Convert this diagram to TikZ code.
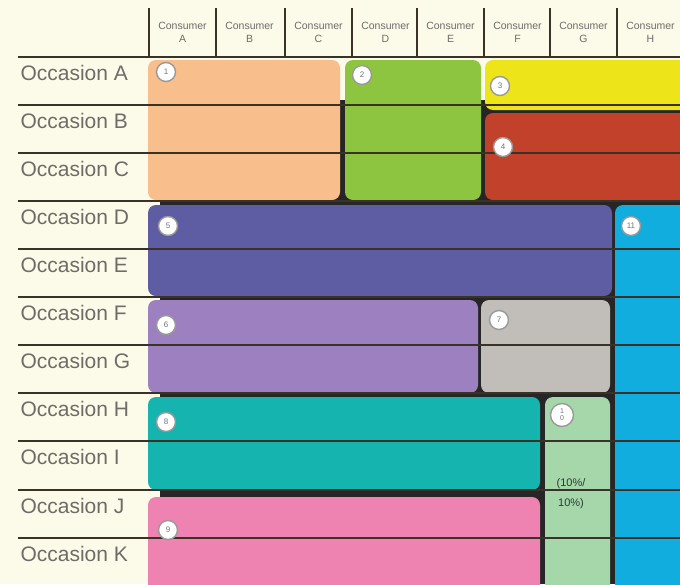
\documentclass[tikz,border=0pt]{standalone}
\usepackage{fontspec}
\setmainfont{Liberation Sans}
\usetikzlibrary{positioning,calc}
\definecolor{cPaper}{HTML}{FCFAE8}
\definecolor{cRule}{HTML}{3A3226}
\definecolor{cText}{HTML}{6E6C66}
\definecolor{cPeach}{HTML}{F8BE8C}
\definecolor{cGreen}{HTML}{8DC540}
\definecolor{cYellow}{HTML}{EDE51A}
\definecolor{cRed}{HTML}{C1412A}
\definecolor{cIndigo}{HTML}{5E5CA2}
\definecolor{cCyan}{HTML}{12ADDF}
\definecolor{cLilac}{HTML}{9C80C0}
\definecolor{cGrey}{HTML}{C1BEB9}
\definecolor{cTeal}{HTML}{15B4AF}
\definecolor{cMint}{HTML}{A6D7AA}
\definecolor{cPink}{HTML}{EE82B1}

\begin{document}
\begin{tikzpicture}[
    x=1pt, y=-1pt,
    block/.style={rounded corners=8pt, anchor=north west, inner sep=0pt},
    num/.style={circle, draw=black!40, fill=white, line width=1.4pt, minimum size=19pt, inner sep=0pt, font=\fontsize{8}{8}\selectfont, text=black!55},
    occ/.style={anchor=west, font=\fontsize{21}{23}\selectfont, text=cText},
    cons/.style={font=\fontsize{10.5}{12}\selectfont, text=cText, align=center},
    rule/.style={draw=cRule, line width=1.8pt}
]
\useasboundingbox (0,0) rectangle (680,584);
\clip (0,0) rectangle (680,584);
\fill[cPaper] (0,0) rectangle (680,584);

% dark ground behind the blocks
\fill[black!85] (160,100) rectangle (680,584);

% blocks
\fill[block, cPeach] (148,60) rectangle (340,200);
\fill[block, cGreen] (345,60) rectangle (481,200);
\fill[block, cYellow] (485,60) rectangle (700,110);
\fill[block, cRed] (485,113) rectangle (700,200);
\fill[block, cIndigo] (148,205) rectangle (612,296);
\fill[block, cCyan] (615,205) rectangle (700,600);
\fill[block, cLilac] (148,300) rectangle (478,393);
\fill[block, cGrey] (481,300) rectangle (610,393);
\fill[block, cTeal] (148,397) rectangle (540,490);
\fill[block, cMint] (545,397) rectangle (610,600);
\fill[block, cPink] (148,497) rectangle (540,600);

% header columns
\foreach \x/\c in {149/A,216/B,285/C,352/D,417/E,484/F,550/G,617/H} {
  \draw[draw=cRule, line width=1.6pt] (\x,8) -- (\x,57);
  \node[cons] (cons\c) at (\x+33.5,32) {Consumer\\[1pt]\c};
}

% occasion rows
\foreach \y/\o in {57/A,105/B,153/C,201/D,249/E,297/F,345/G,393/H,441/I,490/J,538/K} {
  \draw[rule] (18,\y) -- (680,\y);
  \node[occ] (occ\o) at (17,\y+16) {Occasion \o};
}

% numbers
\node[num] (n1) at (166,72) {1};
\node[num] (n2) at (362,75) {2};
\node[num] (n3) at (500,86) {3};
\node[num] (n4) at (503,147) {4};
\node[num] (n5) at (168,226) {5};
\node[num] (n11) at (631,226) {11};
\node[num] (n6) at (166,325) {6};
\node[num] (n7) at (499,320) {7};
\node[num] (n8) at (166,422) {8};
\node[num, minimum size=23pt, align=center, font=\fontsize{7}{7}\selectfont] (n10) at (562,415) {1\\0};
\node[num] (n9) at (168,530) {9};

\node[font=\fontsize{11}{12}\selectfont, text=black!55!cMint!60!black, align=center] (share) at (571,494) {(10\%/\\[8pt]10\%)};

\end{tikzpicture}
\end{document}
